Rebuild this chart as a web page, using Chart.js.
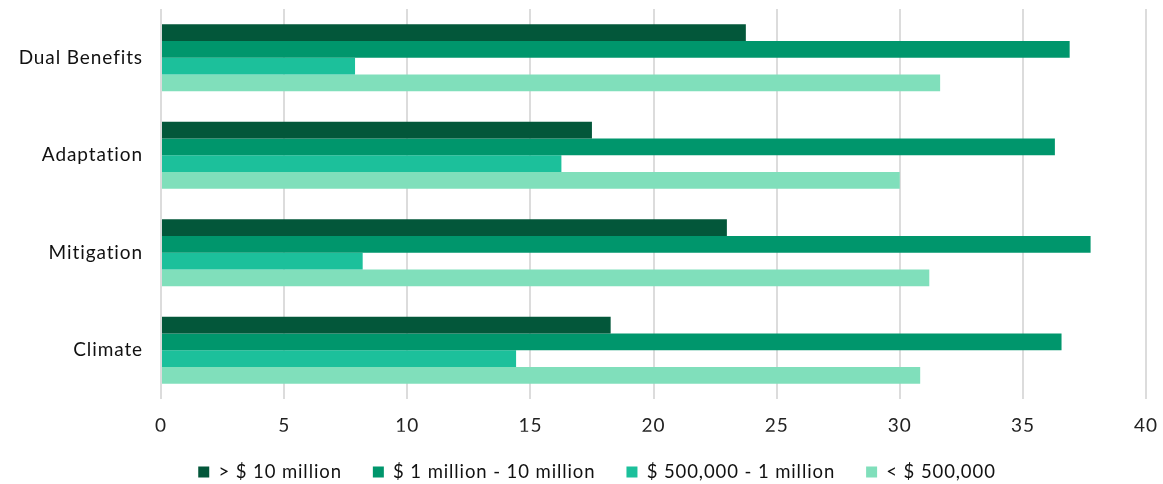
<!DOCTYPE html>
<html>
<head>
<meta charset="utf-8">
<script src="https://cdn.jsdelivr.net/npm/chart.js@4.4.1/dist/chart.umd.min.js"></script>
<style>
  html,body{margin:0;padding:0;background:#fff;}
  #wrap{width:1163px;height:484px;position:relative;}
</style>
</head>
<body>
<div id="wrap"><canvas id="c"></canvas></div>
<script>
const categories = ['Dual Benefits', 'Adaptation', 'Mitigation', 'Climate'];
const seriesNames = ['> $ 10 million', '$ 1 million - 10 million', '$ 500,000 - 1 million', '< $ 500,000'];
const over10m = [23.75, 17.5, 22.98, 18.26];
const from1mTo10m = [36.9, 36.3, 37.75, 36.57];
const from500kTo1m = [7.88, 16.26, 8.19, 14.42];
const under500k = [31.64, 30.0, 31.2, 30.83];
const xTicks = [0, 5, 10, 15, 20, 25, 30, 35, 40];
const colors = ['#03573A', '#00966C', '#1CC09B', '#80DFBB'];

const seriesValues = [over10m, from1mTo10m, from500kTo1m, under500k];
const FONT = 'Lato, "Open Sans", sans-serif';

const spacingPlugin = {
  id: 'spacing',
  beforeUpdate(chart) { chart.ctx.letterSpacing = '0.9px'; },
  beforeLayout(chart) { chart.ctx.letterSpacing = '0.9px'; },
  afterLayout(chart) {
    if (chart.legend) { chart.legend.left += 24; chart.legend.right += 24; }
  },
  beforeDraw(chart) { chart.ctx.letterSpacing = '0.9px'; }
};

new Chart(document.getElementById('c'), {
  type: 'bar',
  plugins: [spacingPlugin],
  data: {
    labels: categories,
    datasets: seriesNames.map((n, i) => ({
      label: n,
      data: seriesValues[i],
      backgroundColor: colors[i],
      borderWidth: 0,
      categoryPercentage: 0.685,
      barPercentage: 1.0
    }))
  },
  options: {
    indexAxis: 'y',
    responsive: true,
    maintainAspectRatio: false,
    animation: false,
    layout: { padding: { top: 9, right: 17, bottom: -7.25, left: 0 } },
    scales: {
      x: {
        min: xTicks[0],
        max: xTicks[xTicks.length - 1],
        afterBuildTicks: (s) => { s.ticks = xTicks.map(v => ({ value: v })); },
        grid: { color: '#dcdcdc', lineWidth: 2, drawTicks: false },
        border: { display: false },
        ticks: { color: '#222', font: { family: FONT, size: 19 }, padding: 15 },
        afterFit: (s) => { s.height = 32.75; s.paddingLeft = 0; s.paddingRight = 0; }
      },
      y: {
        grid: { display: false, drawTicks: false },
        border: { display: false },
        ticks: { color: '#111', font: { family: FONT, size: 19 }, padding: 18 },
        afterFit: (s) => { s.width = 161; s.paddingTop = 0; s.paddingBottom = 0; }
      }
    },
    plugins: {
      legend: {
        position: 'bottom',
        labels: {
          boxWidth: 11,
          boxHeight: 11,
          padding: 31,
          color: '#111',
          font: { family: FONT, size: 18.5 }
        }
      },
      tooltip: { enabled: false }
    }
  }
});
</script>
</body>
</html>
